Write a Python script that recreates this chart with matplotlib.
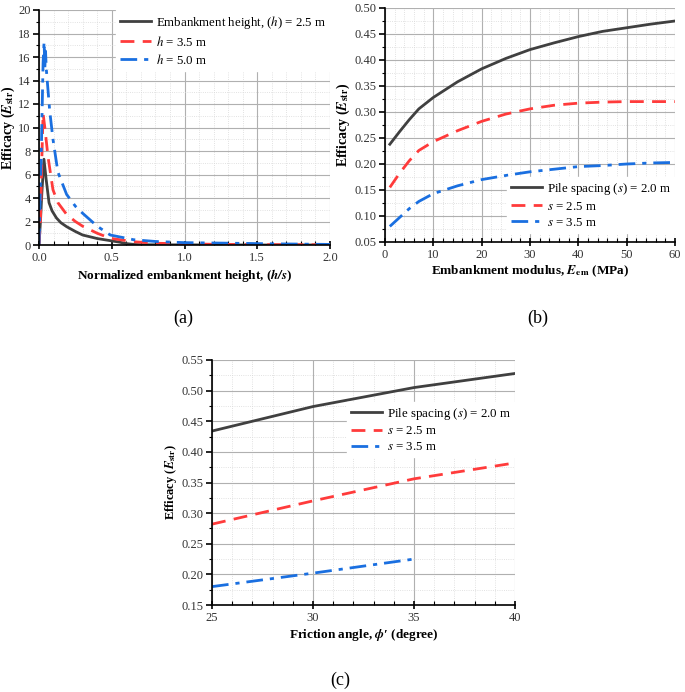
import numpy as np
import matplotlib
matplotlib.use('Agg')
import matplotlib.pyplot as plt
from matplotlib.ticker import MultipleLocator

plt.rcParams['font.family'] = ['Liberation Serif', 'DejaVu Serif']
plt.rcParams['mathtext.fontset'] = 'stix'

### DATA: panel (a) normalized embankment height vs efficacy
hs_25 = [0.0, 0.01, 0.02, 0.034, 0.05, 0.069, 0.09, 0.12, 0.15, 0.19, 0.25, 0.3, 0.4, 0.49, 0.55, 0.6, 0.65, 0.7, 1.0, 1.5, 2.0]
e_25 = [0.0, 2.0, 4.5, 7.3, 5.5, 3.6, 2.9, 2.3, 1.9, 1.56, 1.15, 0.85, 0.55, 0.37, 0.25, 0.12, 0.05, 0.02, 0.01, 0.0, 0.0]
hs_35 = [0.0, 0.01, 0.02, 0.028, 0.04, 0.062, 0.08, 0.096, 0.13, 0.19, 0.25, 0.3, 0.4, 0.49, 0.65, 0.8, 1.0, 1.2, 1.5, 2.0]
e_35 = [0.0, 2.0, 7.5, 11.2, 10.0, 7.5, 6.0, 4.7, 3.6, 2.6, 2.0, 1.6, 1.0, 0.57, 0.28, 0.15, 0.1, 0.06, 0.03, 0.02]
hs_50 = [0.0, 0.016, 0.028, 0.035, 0.04, 0.045, 0.05, 0.073, 0.096, 0.13, 0.19, 0.25, 0.3, 0.4, 0.49, 0.65, 0.8, 1.0, 1.33, 1.6, 2.0]
e_50 = [0.0, 8.0, 15.5, 17.3, 15.0, 16.5, 15.0, 11.5, 9.0, 6.2, 4.3, 3.3, 2.7, 1.6, 0.85, 0.45, 0.3, 0.2, 0.15, 0.1, 0.05]

### DATA: panel (b) embankment modulus vs efficacy
e_em = [1, 3, 5, 7, 10, 15, 20, 25, 30, 35, 40, 45, 50, 55, 60]
b_s20 = [0.238, 0.262, 0.285, 0.306, 0.328, 0.358, 0.383, 0.403, 0.420, 0.433, 0.445, 0.455, 0.462, 0.469, 0.475]
b_s25 = [0.155, 0.182, 0.206, 0.226, 0.243, 0.264, 0.282, 0.296, 0.306, 0.313, 0.317, 0.319, 0.320, 0.320, 0.320]
b_s35 = [0.080, 0.097, 0.114, 0.128, 0.143, 0.158, 0.170, 0.178, 0.185, 0.190, 0.195, 0.197, 0.200, 0.202, 0.203]

### DATA: panel (c) friction angle vs efficacy
phi = [25, 30, 35, 40]
c_s20 = [0.434, 0.474, 0.505, 0.528]
c_s25 = [0.282, 0.320, 0.356, 0.382]
phi_35 = [25, 30, 35]
c_s35 = [0.180, 0.202, 0.225]

c_black = '#404040'
c_red = '#ff3b3b'
c_blue = '#1a6fe0'
lw = 2.0
dash = (0, (5, 3))
dashdot = (0, (6, 2.5, 1.5, 2.5))
XL = 9.5   # x label size
YL = 10    # y label size
LG = 9.3   # legend size
TK = 9     # tick label size


def style_ax(ax):
    ax.grid(which='major', color='#b0b0b0', lw=0.8, ls='-')
    ax.grid(which='minor', color='#d8d8d8', lw=0.6, ls=':')
    ax.set_axisbelow(True)
    for sp in ['top', 'right']:
        ax.spines[sp].set_visible(False)
    ax.spines['left'].set_linewidth(1.2)
    ax.spines['bottom'].set_linewidth(1.2)
    ax.tick_params(axis='y', which='major', direction='out', length=4, width=1.2, labelsize=TK, pad=2)
    ax.tick_params(axis='y', which='minor', direction='out', length=2.5, width=0.8)
    ax.tick_params(axis='x', which='major', direction='inout', length=6, width=1.2, labelsize=TK, pad=2)
    ax.tick_params(axis='x', which='minor', direction='in', length=3, width=0.8)
    for lab in ax.get_xticklabels() + ax.get_yticklabels():
        lab.set_color('#333333')


def leg(ax, loc, bbox=None):
    lg = ax.legend(loc=loc, bbox_to_anchor=bbox, frameon=True, fancybox=False,
                   framealpha=1, edgecolor='white', fontsize=LG,
                   handlelength=2.4, handletextpad=0.4, borderpad=0.3,
                   labelspacing=0.3, borderaxespad=0.0)
    return lg


fig = plt.figure(figsize=(6.85, 6.92), dpi=100)
W, H = 685.0, 692.0
ylab = 'Efficacy ($\\mathbfit{E}_{\\mathbf{str}}$)'

#################################################################
### PANEL (a)
ax1 = fig.add_axes([39 / W, 1 - 245 / H, (330 - 39) / W, (245 - 10) / H])
ax1.plot(hs_25, e_25, color=c_black, lw=lw, ls='-', label='Embankment height, ($h$) = 2.5 m')
ax1.plot(hs_35, e_35, color=c_red, lw=lw, ls=dash, label='$h$ = 3.5 m')
ax1.plot(hs_50, e_50, color=c_blue, lw=lw, ls=dashdot, label='$h$ = 5.0 m')
ax1.set_xlim(0, 2.0)
ax1.set_ylim(0, 20)
ax1.xaxis.set_major_locator(MultipleLocator(0.5))
ax1.xaxis.set_minor_locator(MultipleLocator(0.1))
ax1.yaxis.set_major_locator(MultipleLocator(2))
ax1.yaxis.set_minor_locator(MultipleLocator(1))
ax1.xaxis.set_major_formatter(plt.FormatStrFormatter('%.1f'))
ax1.set_xlabel('Normalized embankment height, ($\\mathbfit{h/s}$)', fontsize=XL, fontweight='bold', labelpad=2)
ax1.set_ylabel(ylab, fontsize=YL, fontweight='bold', labelpad=1)
style_ax(ax1)
leg(ax1, 'upper right', (1.0, 1.0))
fig.text(183 / W, 1 - 318 / H, '(a)', fontsize=13, ha='center', va='center')

#################################################################
### PANEL (b)
ax2 = fig.add_axes([385 / W, 1 - 242 / H, (675 - 385) / W, (242 - 8) / H])
ax2.plot(e_em, b_s20, color=c_black, lw=lw, ls='-', label='Pile spacing ($s$) = 2.0 m')
ax2.plot(e_em, b_s25, color=c_red, lw=lw, ls=dash, label='$s$ = 2.5 m')
ax2.plot(e_em, b_s35, color=c_blue, lw=lw, ls=dashdot, label='$s$ = 3.5 m')
ax2.set_xlim(0, 60)
ax2.set_ylim(0.05, 0.50)
ax2.xaxis.set_major_locator(MultipleLocator(10))
ax2.xaxis.set_minor_locator(MultipleLocator(2))
ax2.yaxis.set_major_locator(MultipleLocator(0.05))
ax2.yaxis.set_minor_locator(MultipleLocator(0.025))
ax2.yaxis.set_major_formatter(plt.FormatStrFormatter('%.2f'))
ax2.set_xlabel('Embankment modulus, $\\mathbfit{E}_{\\mathbf{em}}$ (MPa)', fontsize=XL, fontweight='bold', labelpad=2)
ax2.set_ylabel(ylab, fontsize=YL, fontweight='bold', labelpad=2)
style_ax(ax2)
leg(ax2, 'lower right', (1.0, 0.04))
fig.text(538 / W, 1 - 318 / H, '(b)', fontsize=13, ha='center', va='center')

#################################################################
### PANEL (c)
ax3 = fig.add_axes([212 / W, 1 - 605 / H, (515 - 212) / W, (605 - 360) / H])
ax3.plot(phi, c_s20, color=c_black, lw=lw, ls='-', label='Pile spacing ($s$) = 2.0 m')
ax3.plot(phi, c_s25, color=c_red, lw=lw, ls=dash, label='$s$ = 2.5 m')
ax3.plot(phi_35, c_s35, color=c_blue, lw=lw, ls=dashdot, label='$s$ = 3.5 m')
ax3.set_xlim(25, 40)
ax3.set_ylim(0.15, 0.55)
ax3.xaxis.set_major_locator(MultipleLocator(5))
ax3.xaxis.set_minor_locator(MultipleLocator(1))
ax3.yaxis.set_major_locator(MultipleLocator(0.05))
ax3.yaxis.set_minor_locator(MultipleLocator(0.025))
ax3.yaxis.set_major_formatter(plt.FormatStrFormatter('%.2f'))
ax3.set_xlabel('Friction angle, $\\mathbfit{\\phi}$\u2032 (degree)', fontsize=XL, fontweight='bold', labelpad=2)
ax3.set_ylabel(ylab, fontsize=9, fontweight='bold', labelpad=2)
style_ax(ax3)
leg(ax3, 'upper right', (1.0, 0.83))
fig.text(340 / W, 1 - 680 / H, '(c)', fontsize=13, ha='center', va='center')

fig.savefig('out.png', dpi=100, facecolor='white')
